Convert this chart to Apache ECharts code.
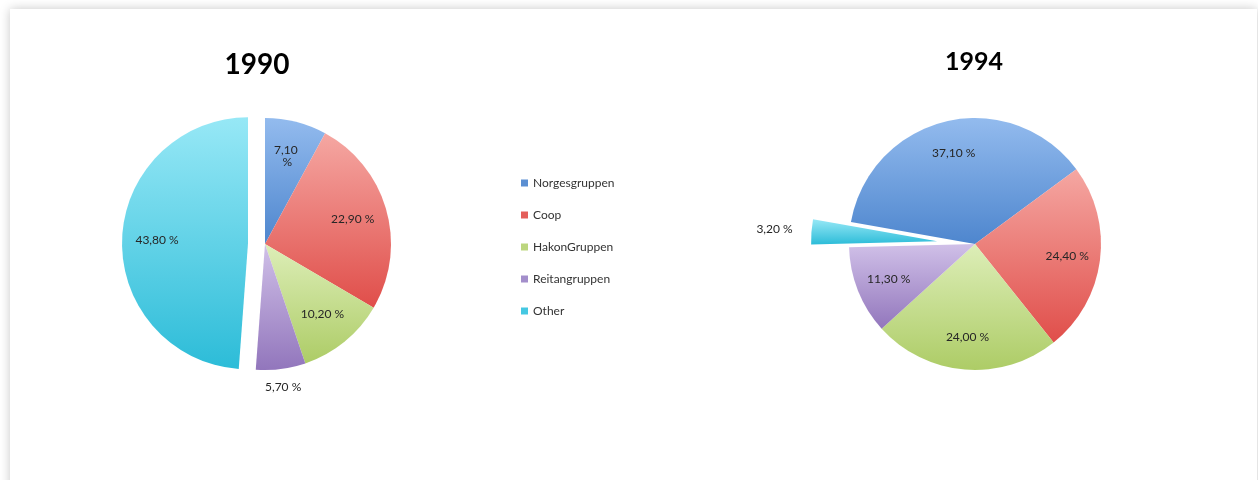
<!DOCTYPE html>
<html>
<head>
<meta charset="utf-8">
<script src="https://cdn.jsdelivr.net/npm/echarts@6/dist/echarts.min.js"></script>
<style>
html,body{margin:0;padding:0;background:#fff;}
#chart{width:1258px;height:480px;}
</style>
</head>
<body>
<div id="chart"></div>
<script>
const categories = ['Norgesgruppen', 'Coop', 'HakonGruppen', 'Reitangruppen', 'Other'];
const years = ['1990', '1994'];
const values1990 = [7.1, 22.9, 10.2, 5.7, 43.8];
const values1994 = [37.1, 24.4, 24.0, 11.3, 3.2];

const gradTop = ['#93BBEE', '#F5A7A2', '#DDEEB8', '#D0C0E8', '#97E8F6'];
const gradBottom = ['#4E86CE', '#E04E4A', '#ADCC66', '#9276BC', '#2CBCD8'];
const legendColors = ['#5B8FD2', '#E45E5A', '#BCD67E', '#A38ECB', '#45C8E2'];

function fmt(v) { return v.toFixed(2).replace('.', ',') + ' %'; }

function grad(i) {
  return { type: 'linear', x: 0, y: 0, x2: 0, y2: 1,
    colorStops: [{ offset: 0, color: gradTop[i] }, { offset: 1, color: gradBottom[i] }] };
}

const explodedIndex = 4;

function mainData(values) {
  return values.map((v, i) => ({
    name: categories[i], value: v, selected: i === explodedIndex,
    itemStyle: { color: grad(i) }
  }));
}
function labelData(values, showFn, extra) {
  return values.map((v, i) => {
    const item = { name: categories[i], value: v, selected: i === explodedIndex,
      label: { show: showFn(i) } };
    if (extra && extra[i]) Object.assign(item.label, extra[i]);
    return item;
  });
}

const labelStyle = { color: '#262626', fontSize: 12, fontFamily: 'Lato', formatter: p => fmt(p.value) };

function pie(center, radius, startAngle, offset, data, withLabel) {
  return {
    type: 'pie', center: center, radius: radius, startAngle: startAngle, clockwise: true,
    selectedMode: 'multiple', selectedOffset: offset, animation: false,
    emphasis: { disabled: true }, select: { disabled: false },
    silent: withLabel,
    itemStyle: withLabel ? { color: 'rgba(0,0,0,0)' } : {},
    label: withLabel ? Object.assign({ position: 'inside' }, labelStyle) : { show: false },
    labelLine: { show: false },
    data: data
  };
}

const c1 = [265, 244], c2 = [975, 244];

const option = {
  backgroundColor: '#fff',
  graphic: [{
    type: 'rect', z: -10, silent: true,
    shape: { x: 10, y: 9, width: 1247, height: 490 },
    style: { fill: '#fff', shadowBlur: 10, shadowColor: 'rgba(0,0,0,0.22)' }
  }],
  title: [
    { text: years[0], left: 257, top: 51, textAlign: 'center', padding: 0,
      textStyle: { fontFamily: 'Lato', fontWeight: 'bold', fontSize: 28, color: '#000' } },
    { text: years[1], left: 974, top: 49, textAlign: 'center', padding: 0,
      textStyle: { fontFamily: 'Lato', fontWeight: 'bold', fontSize: 25, color: '#000' } }
  ],
  legend: {
    orient: 'vertical', left: 516, top: 172, itemWidth: 7, itemHeight: 7, itemGap: 20,
    icon: 'rect', selectedMode: false,
    textStyle: { fontFamily: 'Lato', fontSize: 12, color: '#333' },
    data: categories.map((n, i) => ({ name: n, itemStyle: { color: legendColors[i] } }))
  },
  series: [
    pie(c1, 126, 90, 17, mainData(values1990), false),
    pie(c2, 126, 170, 38, mainData(values1994), false),
    pie(c1, [50, 126], 90, 17, labelData(values1990, i => i !== 3, { 0: { width: 28, overflow: 'break' } }), true),
    pie(c1, [126, 156], 90, 17, labelData(values1990, i => i === 3), true),
    pie(c2, [54, 126], 170, 38, labelData(values1994, i => i !== 4), true),
    pie(c2, [142, 178], 170, 38, labelData(values1994, i => i === 4), true)
  ]
};

const chart = echarts.init(document.getElementById('chart'), null, { renderer: 'canvas' });
chart.setOption(option);
</script>
</body>
</html>
